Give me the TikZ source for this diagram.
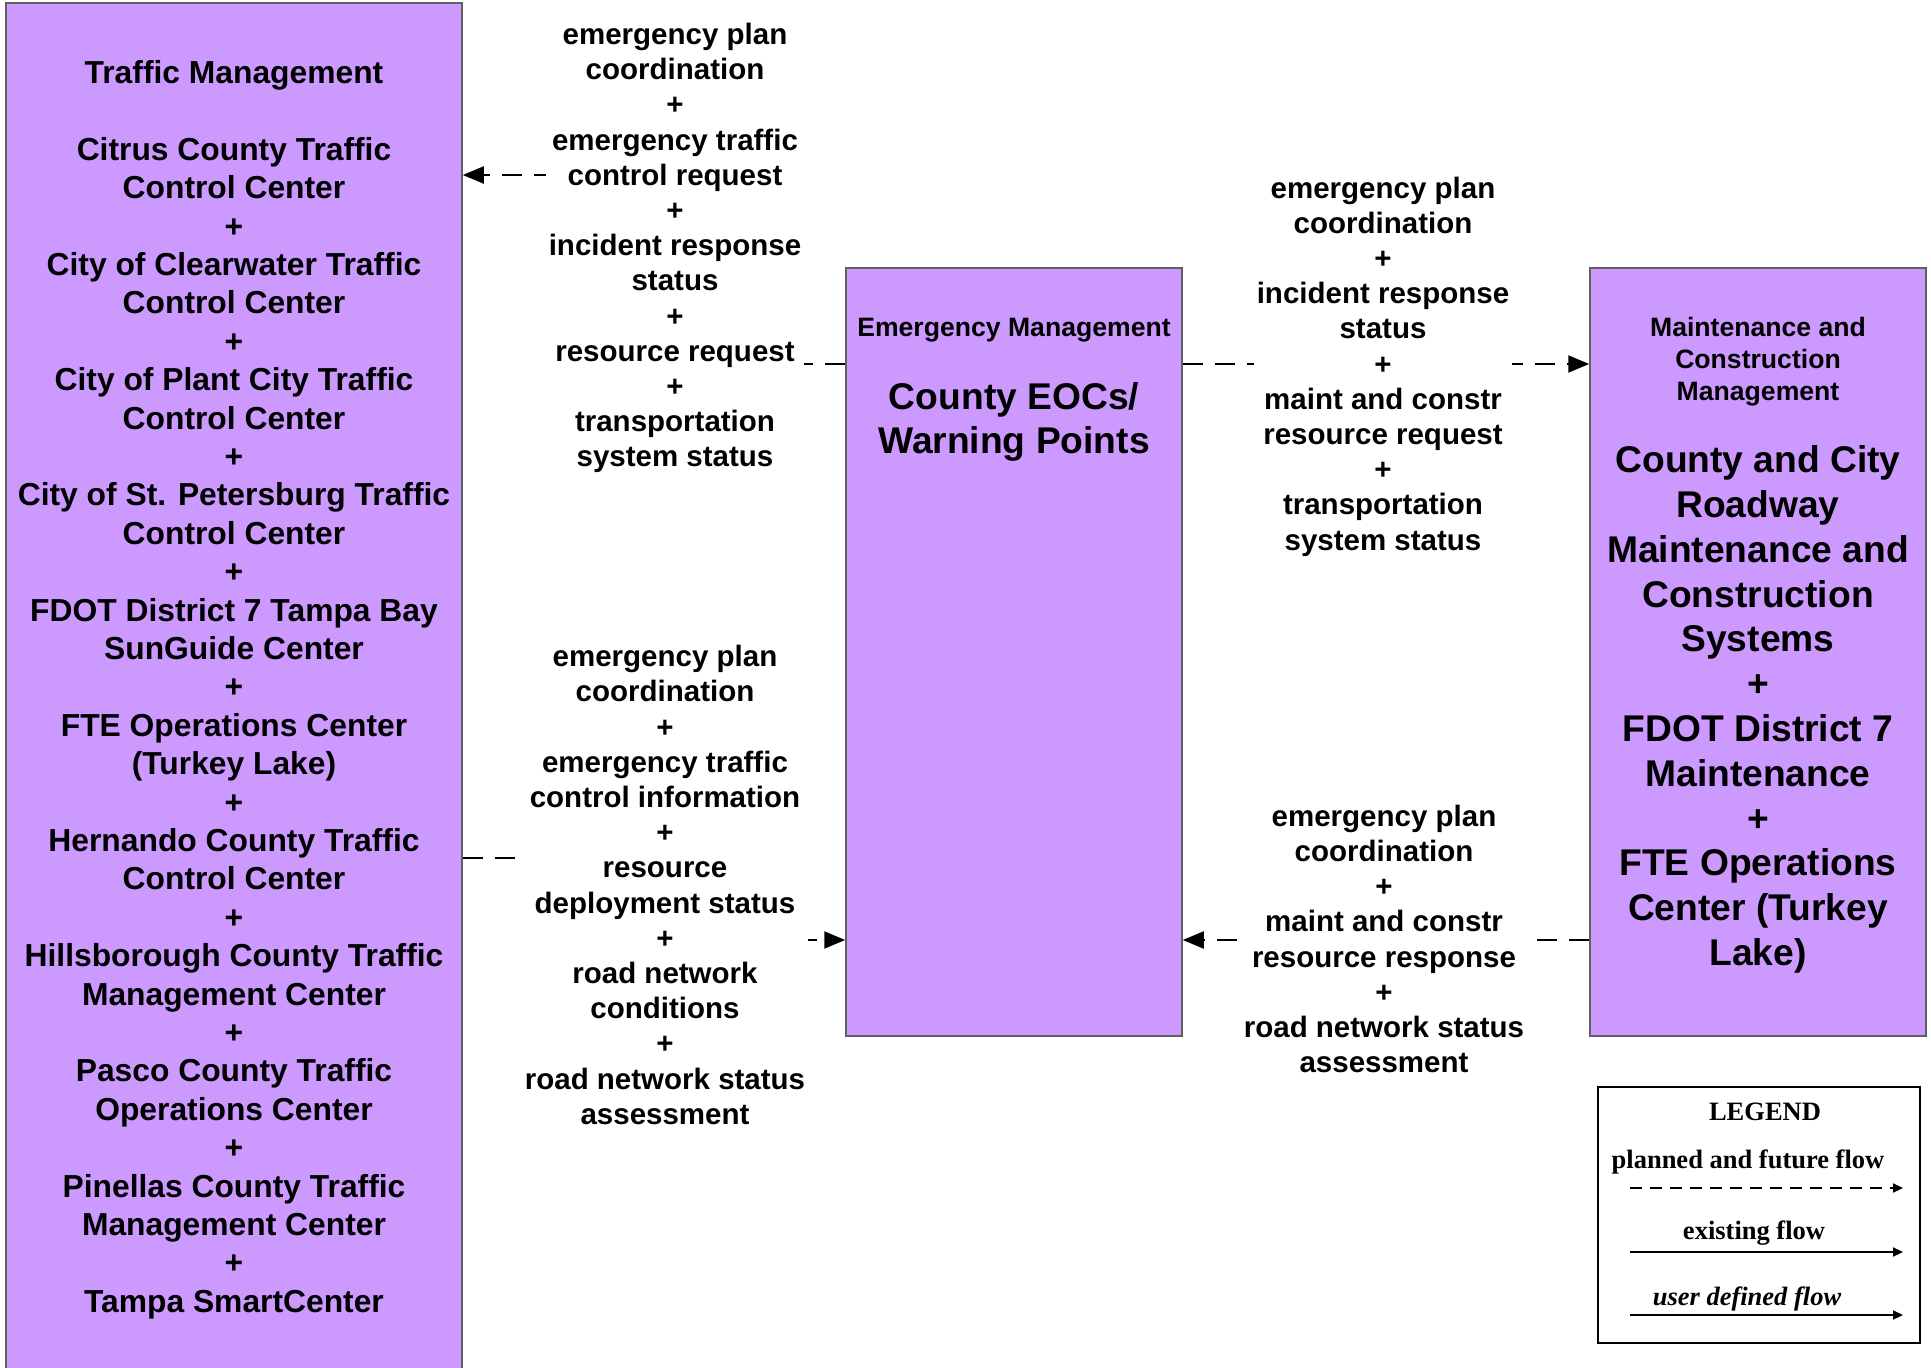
\documentclass[tikz,border=0pt]{standalone}
\usepackage{fontspec}
\setmainfont{Liberation Sans}
\newfontfamily\legfont{Liberation Serif}
\usetikzlibrary{arrows.meta}
\definecolor{boxfill}{HTML}{CC99FF}
\definecolor{boxline}{HTML}{606060}
\begin{document}
\begin{tikzpicture}[x=1pt,y=-1pt,
  sysbox/.style={draw=boxline, line width=1.5pt, fill=boxfill, inner sep=0pt},
  flow/.style={line width=2pt, dash pattern=on 20pt off 12pt, -{Triangle[length=21pt,width=17pt]}},
  flowlabel/.style={fill=white, inner sep=3pt, align=center, font=\fontsize{29.5}{35.2}\selectfont\bfseries},
  lefttext/.style={align=center, font=\fontsize{31.8}{38.4}\selectfont\bfseries},
  smalltitle/.style={align=center, font=\fontsize{26.6}{32}\selectfont\bfseries},
  bigtitle/.style={align=center, font=\fontsize{37.2}{44.8}\selectfont\bfseries},
  legtext/.style={align=center, font=\legfont\fontsize{26.5}{30}\selectfont\bfseries},
  legarrow/.style={line width=2pt, -{Triangle[length=10pt,width=9pt]}},
]
\useasboundingbox (0,0) rectangle (1931,1368);
\fill[white] (0,0) rectangle (1931,1368);

% boxes
\node[sysbox, minimum width=456pt, minimum height=1369pt] (tm) at (234,687.5) {};
\node[sysbox, minimum width=336pt, minimum height=768pt] (em) at (1014,652) {};
\node[sysbox, minimum width=336pt, minimum height=768pt] (mc) at (1758,652) {};

% box texts
\node[lefttext] (tmtext) at (234,689.7) {Traffic Management\\[38.4pt]
Citrus County Traffic\\Control Center\\+\\
City of Clearwater Traffic\\Control Center\\+\\
City of Plant City Traffic\\Control Center\\+\\
City of St. Petersburg Traffic\\Control Center\\+\\
FDOT District 7 Tampa Bay\\SunGuide Center\\+\\
FTE Operations Center\\(Turkey Lake)\\+\\
Hernando County Traffic\\Control Center\\+\\
Hillsborough County Traffic\\Management Center\\+\\
Pasco County Traffic\\Operations Center\\+\\
Pinellas County Traffic\\Management Center\\+\\
Tampa SmartCenter};

\node[smalltitle] (emcat) at (1014,329.7) {Emergency Management};
\node[bigtitle] (emname) at (1014,422) {County EOCs/\\Warning Points};

\node[smalltitle] (mccat) at (1758,361.7) {Maintenance and\\Construction\\Management};
\node[bigtitle] (mcname) at (1758,709.5) {County and City\\Roadway\\Maintenance and\\Construction\\Systems\\+\\FDOT District 7\\Maintenance\\+\\FTE Operations\\Center (Turkey\\Lake)};

% flows
\draw[flow] (em.west |- 0,364) -- (675,364) -- (675,175) -- (tm.east |- 0,175);
\draw[flow] (tm.east |- 0,858) -- (665,858) -- (665,940) -- (em.west |- 0,940);
\draw[flow] (em.east |- 0,364) -- (mc.west |- 0,364);
\draw[flow] (mc.west |- 0,940) -- (em.east |- 0,940);

% flow labels
\node[flowlabel] (fa) at (675,248) {emergency plan\\coordination\\+\\emergency traffic\\control request\\+\\incident response\\status\\+\\resource request\\+\\transportation\\system status};
\node[flowlabel] (fb) at (665,885) {emergency plan\\coordination\\+\\emergency traffic\\control information\\+\\resource\\deployment status\\+\\road network\\conditions\\+\\road network status\\assessment};
\node[flowlabel] (fc) at (1383,366.5) {emergency plan\\coordination\\+\\incident response\\status\\+\\maint and constr\\resource request\\+\\transportation\\system status};
\node[flowlabel] (fd) at (1384,939) {emergency plan\\coordination\\+\\maint and constr\\resource response\\+\\road network status\\assessment};

% legend
\node[draw, line width=2.5pt, minimum width=322pt, minimum height=256pt, inner sep=0pt] (legend) at (1759,1215) {};
\node[legtext] (legtitle) at (1765,1112) {LEGEND};
\node[legtext] (legplan) at (1748,1162) {planned and future flow};
\coordinate (pfs) at (1630,1188);
\coordinate (pfe) at (1903,1188);
\draw[legarrow, dash pattern=on 12pt off 8pt] (pfs) -- (pfe);
\node[legtext] (legexist) at (1754,1233) {existing flow};
\coordinate (efs) at (1630,1252);
\coordinate (efe) at (1903,1252);
\draw[legarrow] (efs) -- (efe);
\node[legtext, font=\legfont\fontsize{26.5}{30}\selectfont\bfseries\itshape] (leguser) at (1747,1299) {user defined flow};
\coordinate (ufs) at (1630,1315);
\coordinate (ufe) at (1903,1315);
\draw[legarrow] (ufs) -- (ufe);
\end{tikzpicture}
\end{document}
